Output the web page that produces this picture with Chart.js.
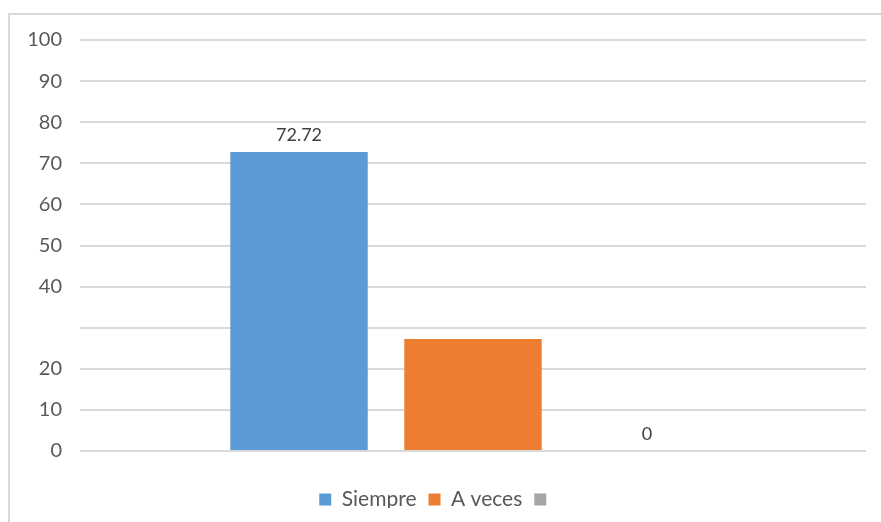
<!DOCTYPE html>
<html>
<head>
<meta charset="utf-8">
<script src="https://cdn.jsdelivr.net/npm/chart.js@4/dist/chart.umd.min.js"></script>
<style>
  html, body { margin: 0; padding: 0; background: #fff; overflow: hidden; }
  #marco { position: absolute; left: 8px; top: 13px; width: 900px; height: 540px;
           border-top: 2px solid #d9d9d9; border-left: 2px solid #d9d9d9; }
  #recorte { position: absolute; left: 0; top: 0; width: 881px; height: 508px; overflow: hidden; }
  #caja { position: relative; width: 881px; height: 522px; }
</style>
</head>
<body>
<div id="marco"></div>
<div id="recorte"><div id="caja"><canvas id="grafica"></canvas></div></div>
<script>
// datos
var categorias = [""];
var series = ["Siempre", "A veces", ""];
var valores = [72.72, 27.27, 0];
var colores = ["#5B9BD5", "#ED7D31", "#A5A5A5"];
var conEtiqueta = [true, false, true];

var etiquetas = {
    id: "etiquetas",
    afterDatasetsDraw: function (chart) {
        var ctx = chart.ctx;
        ctx.save();
        ctx.font = "18px Lato";
        ctx.fillStyle = "#404040";
        ctx.textAlign = "center";
        ctx.textBaseline = "bottom";
        chart.data.datasets.forEach(function (ds, i) {
            if (!conEtiqueta[i]) return;
            var bar = chart.getDatasetMeta(i).data[0];
            ctx.fillText(String(ds.data[0]), bar.x, bar.y - 8);
        });
        ctx.restore();
    }
};

var datasets = [];
for (var i = 0; i < series.length; i++) {
    datasets.push({
        label: series[i],
        data: [valores[i]],
        backgroundColor: colores[i],
        categoryPercentage: 0.664,
        barPercentage: 0.79
    });
}

new Chart("grafica", {
    type: "bar",
    data: { labels: categorias, datasets: datasets },
    plugins: [etiquetas],
    options: {
        responsive: true,
        maintainAspectRatio: false,
        animation: false,
        layout: { padding: { left: 10, right: 15, top: 40, bottom: 2 } },
        plugins: {
            tooltip: { enabled: false },
            legend: {
                display: true,
                position: "bottom",
                labels: {
                    boxWidth: 12,
                    boxHeight: 12,
                    padding: 12,
                    color: "#595959",
                    font: { family: "Lato", size: 21 }
                }
            }
        },
        scales: {
            x: {
                grid: { display: false },
                border: { display: false },
                ticks: { display: false },
                afterFit: function (s) { s.height = 26; }
            },
            y: {
                min: 0,
                max: 100,
                ticks: {
                    stepSize: 10,
                    padding: 18,
                    color: "#595959",
                    font: { family: "Lato", size: 20 },
                    callback: function (v) { return v === 30 ? "" : v; }
                },
                grid: { color: "#d9d9d9", lineWidth: 2, drawTicks: false },
                border: { display: false },
                afterFit: function (s) { s.width = 70; }
            }
        }
    }
});
</script>
</body>
</html>
